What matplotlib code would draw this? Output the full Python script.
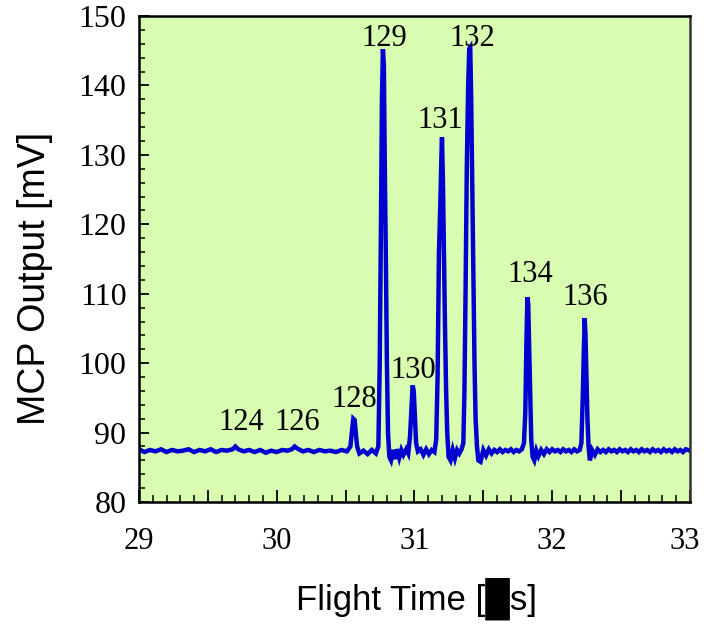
import matplotlib
matplotlib.use("Agg")
import matplotlib.pyplot as plt
import matplotlib.transforms as mtransforms
from matplotlib.ticker import MultipleLocator, FuncFormatter

# ---- data ----
time_us = [
    29.00, 29.04, 29.08, 29.12, 29.16, 29.20, 29.24, 29.28, 29.32, 29.36,
    29.40, 29.44, 29.48, 29.52, 29.56, 29.60, 29.64, 29.68, 29.70, 29.72,
    29.76, 29.80, 29.84, 29.88, 29.92, 29.96, 30.00, 30.04, 30.08, 30.11,
    30.13, 30.15, 30.19, 30.23, 30.27, 30.31, 30.35, 30.39, 30.43, 30.47,
    30.51, 30.535, 30.548, 30.556, 30.566, 30.574, 30.584, 30.60, 30.63, 30.66,
    30.69, 30.72, 30.738, 30.748, 30.756, 30.764, 30.771, 30.778, 30.785, 30.792,
    30.80, 30.808, 30.818, 30.83, 30.845, 30.86, 30.875, 30.89, 30.905, 30.92,
    30.94, 30.955, 30.968, 30.978, 30.987, 30.995, 31.003, 31.012, 31.025, 31.045,
    31.065, 31.085, 31.105, 31.125, 31.145, 31.158, 31.168, 31.178, 31.188, 31.196,
    31.200, 31.207, 31.214, 31.222, 31.230, 31.238, 31.248, 31.262, 31.278, 31.294,
    31.31, 31.326, 31.342, 31.355, 31.363, 31.371, 31.380, 31.390, 31.398, 31.405,
    31.412, 31.420, 31.428, 31.436, 31.444, 31.454, 31.464, 31.48, 31.50, 31.52,
    31.54, 31.56, 31.58, 31.60, 31.62, 31.64, 31.66, 31.68, 31.70, 31.72,
    31.74, 31.76, 31.78, 31.795, 31.805, 31.813, 31.820, 31.826, 31.832, 31.840,
    31.848, 31.858, 31.87, 31.885, 31.90, 31.92, 31.94, 31.96, 31.98, 32.00,
    32.02, 32.04, 32.06, 32.08, 32.10, 32.12, 32.14, 32.16, 32.18, 32.20,
    32.212, 32.222, 32.230, 32.236, 32.242, 32.248, 32.256, 32.264, 32.274, 32.29,
    32.31, 32.33, 32.35, 32.37, 32.39, 32.41, 32.43, 32.45, 32.47, 32.49,
    32.51, 32.53, 32.55, 32.57, 32.59, 32.61, 32.63, 32.65, 32.67, 32.69,
    32.71, 32.73, 32.75, 32.77, 32.79, 32.81, 32.83, 32.85, 32.87, 32.89,
    32.91, 32.93, 32.95, 32.97, 33.00,
]
signal_mV = [
    87.6, 87.2, 87.5, 87.3, 87.6, 87.2, 87.5, 87.3, 87.4, 87.6,
    87.2, 87.5, 87.3, 87.6, 87.2, 87.5, 87.4, 87.6, 88.0, 87.6,
    87.3, 87.5, 87.2, 87.5, 87.1, 87.4, 87.2, 87.5, 87.4, 87.6,
    88.0, 87.7, 87.3, 87.5, 87.2, 87.5, 87.3, 87.4, 87.2, 87.5,
    87.3, 88.0, 90.5, 92.0, 91.8, 90.0, 88.0, 87.0, 87.4, 86.9,
    87.5, 87.0, 88.0, 100.0, 118.0, 138.0, 145.2, 143.0, 128.0, 116.0,
    100.0, 90.0, 86.5, 86.0, 87.5, 86.2, 87.6, 86.4, 87.5, 86.8,
    87.6, 87.0, 89.5, 93.5, 96.8, 96.0, 92.5, 88.5, 87.3, 87.6,
    86.8, 87.6, 86.9, 87.5, 87.2, 89.0, 98.0, 116.0, 123.0, 130.0,
    132.5, 126.0, 116.0, 105.0, 96.0, 90.0, 86.5, 86.0, 87.5, 86.3,
    87.5, 87.0, 87.6, 88.5, 96.0, 110.0, 128.0, 140.0, 145.3, 145.5,
    138.0, 125.0, 112.0, 100.0, 92.0, 88.0, 86.0, 85.8, 87.5, 86.7,
    87.6, 87.0, 87.5, 87.2, 87.6, 87.2, 87.5, 87.3, 87.6, 87.2,
    87.5, 87.3, 87.6, 88.5, 93.0, 103.0, 109.5, 108.5, 103.0, 95.0,
    89.0, 86.5, 86.0, 87.4, 86.6, 87.5, 86.9, 87.6, 87.2, 87.6,
    87.3, 87.5, 87.2, 87.6, 87.3, 87.5, 87.2, 87.6, 87.3, 87.5,
    88.5, 95.0, 102.0, 106.5, 104.0, 99.0, 92.0, 88.0, 86.0, 87.5,
    86.8, 87.6, 87.2, 87.5, 87.2, 87.6, 87.3, 87.5, 87.2, 87.6,
    87.3, 87.5, 87.2, 87.6, 87.3, 87.5, 87.2, 87.6, 87.3, 87.5,
    87.2, 87.6, 87.3, 87.5, 87.2, 87.6, 87.3, 87.5, 87.2, 87.6,
    87.3, 87.5, 87.2, 87.6, 87.4,
]
peak_labels = ["124", "126", "128", "129", "130", "131", "132", "134", "136"]
label_x = [29.74, 30.15, 30.56, 30.78, 30.99, 31.19, 31.42, 31.84, 32.24]
label_y = [91.4, 91.5, 94.7, 146.8, 99.0, 135.0, 146.8, 112.7, 109.5]
x_ticks = [29, 30, 31, 32, 33]
y_ticks = [80, 90, 100, 110, 120, 130, 140, 150]

# ---- figure ----
fig = plt.figure(figsize=(7.04, 6.35), dpi=100)
ax = fig.add_axes([0.1974, 0.2094, 0.7826, 0.7654])
ax.set_facecolor("#d8fcb0")

ax.plot(time_us, signal_mV, color="#0000d0", lw=3.2, solid_joinstyle="miter")

serif = ["Liberation Serif", "DejaVu Serif"]
for t, x, y in zip(peak_labels, label_x, label_y):
    ax.text(x, y, t, ha="center", va="center", fontsize=22, family=serif, color="black")

ax.set_xlim(29, 33)
ax.set_ylim(80, 150)
ax.xaxis.set_major_locator(MultipleLocator(0.5))
ax.xaxis.set_minor_locator(MultipleLocator(0.1))
ax.xaxis.set_major_formatter(FuncFormatter(
    lambda v, p: (f"{int(round(v))}" if abs(v - round(v)) < 1e-6 and round(v) in x_ticks else "")))
ax.set_yticks(y_ticks)
ax.yaxis.set_minor_locator(MultipleLocator(2))

ax.tick_params(axis="x", which="major", direction="in", length=9, width=1.3, pad=18,
               labelsize=22, top=False)
ax.tick_params(axis="x", which="minor", direction="in", length=5, width=1.1, top=False)
ax.tick_params(axis="y", which="major", direction="in", length=7, width=1.3, pad=9,
               labelsize=23, right=False)
ax.tick_params(axis="y", which="minor", direction="in", length=4, width=1.1, right=False)
for lab in ax.get_xticklabels() + ax.get_yticklabels():
    lab.set_family(serif)

# keep the last x tick label ("33") inside the canvas
fig.canvas.draw()
for lab in ax.get_xticklabels():
    if lab.get_text() == "33":
        lab.set_transform(lab.get_transform() +
                          mtransforms.ScaledTranslation(-4 / 72, 0, fig.dpi_scale_trans))

for s in ["left", "bottom", "top"]:
    ax.spines[s].set_linewidth(1.8)
    ax.spines[s].set_color("black")
ax.spines["right"].set_linewidth(1.8)
ax.spines["right"].set_color("#333333")

sans = ["Liberation Sans", "DejaVu Sans"]
fig.text(0.050, 0.562, "MCP Output [mV]", rotation=90, ha="center", va="center",
         fontsize=27, family=sans)
fig.text(0.592, 0.0394, "Flight Time [\u2588s]", ha="center", va="baseline",
         fontsize=25, family=sans)

fig.savefig("out.png", dpi=100)
